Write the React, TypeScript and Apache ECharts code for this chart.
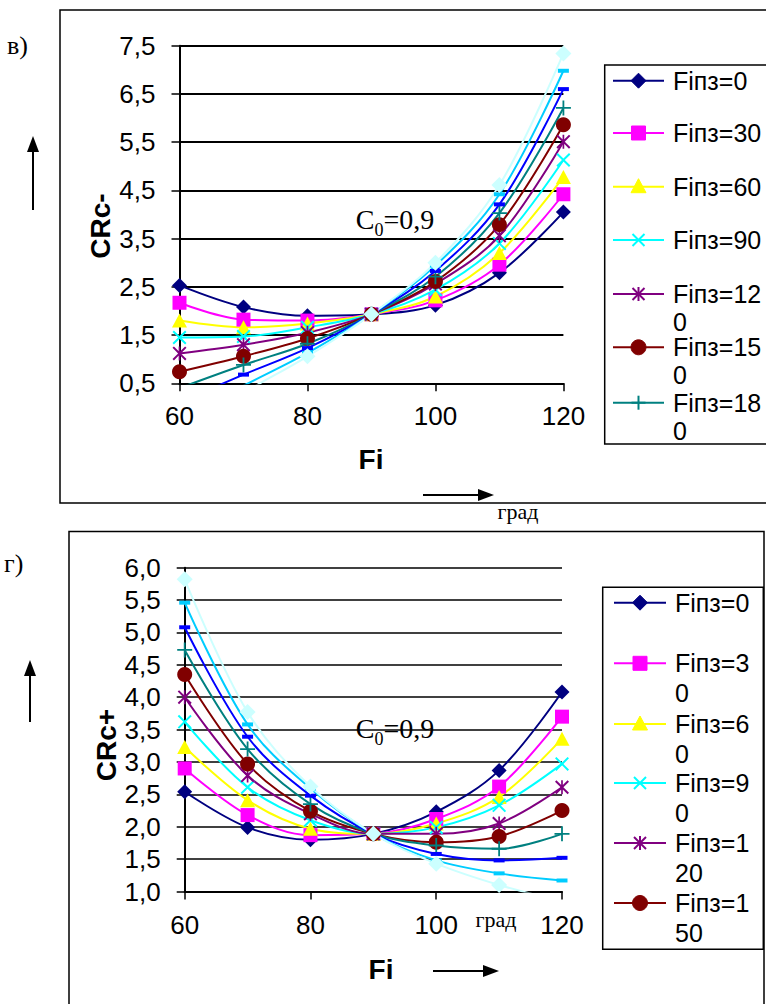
import React, { useEffect, useRef } from "react";
import * as echarts from "echarts";

// ---- data ----
const fiValues = [60, 70, 80, 90, 100, 110, 120];
const seriesNames = [
  "Fiпз=0", "Fiпз=30", "Fiпз=60", "Fiпз=90", "Fiпз=120",
  "Fiпз=150", "Fiпз=180", "Fiпз=210", "Fiпз=240", "Fiпз=270",
];
// top chart: CRc-
const crMinusF0 = [2.53, 2.08, 1.9, 1.93, 2.12, 2.79, 4.05];
const crMinusF30 = [2.17, 1.82, 1.8, 1.93, 2.22, 2.96, 4.42];
const crMinusF60 = [1.8, 1.66, 1.74, 1.93, 2.3, 3.2, 4.78];
const crMinusF90 = [1.45, 1.47, 1.66, 1.93, 2.44, 3.4, 5.13];
const crMinusF120 = [1.12, 1.3, 1.55, 1.93, 2.56, 3.56, 5.51];
const crMinusF150 = [0.74, 1.06, 1.43, 1.93, 2.61, 3.79, 5.86];
const crMinusF180 = [0.4, 0.88, 1.32, 1.93, 2.71, 4.03, 6.21];
const crMinusF210 = [0.1, 0.68, 1.23, 1.93, 2.83, 4.21, 6.6];
const crMinusF240 = [-0.25, 0.45, 1.13, 1.93, 2.94, 4.42, 6.98];
const crMinusF270 = [-0.55, 0.3, 1.06, 1.93, 3.0, 4.61, 7.34];
// bottom chart: CRc+
const crPlusF0 = [2.54, 1.99, 1.8, 1.89, 2.23, 2.87, 4.08];
const crPlusF30 = [2.9, 2.18, 1.87, 1.89, 2.12, 2.62, 3.7];
const crPlusF60 = [3.23, 2.41, 1.97, 1.89, 2.05, 2.46, 3.36];
const crPlusF90 = [3.62, 2.61, 2.1, 1.89, 1.99, 2.33, 2.97];
const crPlusF120 = [4.0, 2.79, 2.2, 1.89, 1.89, 2.05, 2.61];
const crPlusF150 = [4.35, 2.97, 2.24, 1.89, 1.76, 1.85, 2.25];
const crPlusF180 = [4.73, 3.2, 2.35, 1.89, 1.71, 1.66, 1.89];
const crPlusF210 = [5.08, 3.39, 2.48, 1.89, 1.58, 1.48, 1.52];
const crPlusF240 = [5.46, 3.58, 2.59, 1.89, 1.48, 1.28, 1.17];
const crPlusF270 = [5.82, 3.77, 2.62, 1.89, 1.43, 1.1, 0.85];

const topSeriesData = [crMinusF0, crMinusF30, crMinusF60, crMinusF90, crMinusF120, crMinusF150, crMinusF180, crMinusF210, crMinusF240, crMinusF270];
const bottomSeriesData = [crPlusF0, crPlusF30, crPlusF60, crPlusF90, crPlusF120, crPlusF150, crPlusF180, crPlusF210, crPlusF240, crPlusF270];

const topLegendCount = 7;
const bottomLegendCount = 6;
const topLegendLabels = ["Fiпз=0", "Fiпз=30", "Fiпз=60", "Fiпз=90", "Fiпз=12\n0", "Fiпз=15\n0", "Fiпз=18\n0"];
const bottomLegendLabels = ["Fiпз=0", "Fiпз=3\n0", "Fiпз=6\n0", "Fiпз=9\n0", "Fiпз=1\n20", "Fiпз=1\n50"];

// ---- styles ----
const COLORS = ["#000080", "#FF00FF", "#FFFF00", "#00FFFF", "#800080", "#800000", "#008080", "#0000FF", "#00CCFF", "#CCFFFF"];
const SYM_X = "path://M0,1 L1,0 L5,4 L9,0 L10,1 L6,5 L10,9 L9,10 L5,6 L1,10 L0,9 L4,5 Z";
const SYM_STAR = "path://M0,1 L1,0 L5,4 L9,0 L10,1 L6,5 L10,9 L9,10 L5,6 L1,10 L0,9 L4,5 Z M4.4,0 L5.6,0 L5.6,10 L4.4,10 Z";
const SYM_PLUS = "path://M4.4,0 L5.6,0 L5.6,4.4 L10,4.4 L10,5.6 L5.6,5.6 L5.6,10 L4.4,10 L4.4,5.6 L0,5.6 L0,4.4 L4.4,4.4 Z";
const SYM_DASH = "path://M0,0 L10,0 L10,4 L0,4 Z";
const SYMBOLS: any[] = ["diamond", "rect", "triangle", SYM_X, SYM_STAR, "circle", SYM_PLUS, SYM_DASH, SYM_DASH, "diamond"];
const SYM_SIZES: any[] = [15, 14, [15, 14], 14, 14, 15, 15, [11, 4], [11, 4], 16];

const SANS = '"Liberation Sans", Arial, sans-serif';
const SERIF = '"Liberation Serif", "Times New Roman", serif';

function commaFmt(v: number) {
  return v.toFixed(1).replace(".", ",");
}

function legendMarker(i: number, cx: number, cy: number, color: string): any[] {
  const s = { fill: color, stroke: color, lineWidth: 1 };
  const ls = { stroke: color, lineWidth: 2 };
  switch (i) {
    case 0:
      return [{ type: "polygon", shape: { points: [[cx, cy - 7.5], [cx + 7.5, cy], [cx, cy + 7.5], [cx - 7.5, cy]] }, style: s }];
    case 1:
      return [{ type: "rect", shape: { x: cx - 7, y: cy - 7, width: 14, height: 14 }, style: s }];
    case 2:
      return [{ type: "polygon", shape: { points: [[cx, cy - 8], [cx + 7.5, cy + 6], [cx - 7.5, cy + 6]] }, style: s }];
    case 3:
      return [
        { type: "line", shape: { x1: cx - 6, y1: cy - 6, x2: cx + 6, y2: cy + 6 }, style: ls },
        { type: "line", shape: { x1: cx - 6, y1: cy + 6, x2: cx + 6, y2: cy - 6 }, style: ls },
      ];
    case 4:
      return [
        { type: "line", shape: { x1: cx - 6, y1: cy - 6, x2: cx + 6, y2: cy + 6 }, style: ls },
        { type: "line", shape: { x1: cx - 6, y1: cy + 6, x2: cx + 6, y2: cy - 6 }, style: ls },
        { type: "line", shape: { x1: cx, y1: cy - 7, x2: cx, y2: cy + 7 }, style: ls },
      ];
    case 5:
      return [{ type: "circle", shape: { cx, cy, r: 7.5 }, style: s }];
    case 6:
      return [
        { type: "line", shape: { x1: cx - 7, y1: cy, x2: cx + 7, y2: cy }, style: ls },
        { type: "line", shape: { x1: cx, y1: cy - 7, x2: cx, y2: cy + 7 }, style: ls },
      ];
    default:
      return [];
  }
}

function legendItems(xLine0: number, xLine1: number, xText: number, ys: number[], labels: string[], lineH: number): any[] {
  const out: any[] = [];
  ys.forEach((y, i) => {
    const c = COLORS[i];
    out.push({ type: "line", shape: { x1: xLine0, y1: y, x2: xLine1, y2: y }, style: { stroke: c, lineWidth: 2 } });
    out.push(...legendMarker(i, (xLine0 + xLine1) / 2, y, c));
    out.push({
      type: "text",
      x: xText,
      y: y - lineH / 2,
      style: { text: labels[i], font: `25px ${SANS}`, fill: "#000", align: "left", verticalAlign: "top", lineHeight: lineH },
    });
  });
  return out;
}

function upArrow(x: number, yTip: number, yBottom: number): any[] {
  return [
    { type: "line", shape: { x1: x, y1: yTip + 10, x2: x, y2: yBottom }, style: { stroke: "#000", lineWidth: 2 } },
    { type: "polygon", shape: { points: [[x, yTip], [x + 6, yTip + 16], [x - 6, yTip + 16]] }, style: { fill: "#000" } },
  ];
}

function rightArrow(x0: number, xTip: number, y: number): any[] {
  return [
    { type: "line", shape: { x1: x0, y1: y, x2: xTip - 10, y2: y }, style: { stroke: "#000", lineWidth: 2 } },
    { type: "polygon", shape: { points: [[xTip, y], [xTip - 16, y - 6], [xTip - 16, y + 6]] }, style: { fill: "#000" } },
  ];
}

function c0Text(cx: number, cy: number): any {
  return {
    type: "text",
    x: cx,
    y: cy,
    style: {
      text: "{a|C}{b|0}{a|=0,9}",
      align: "center",
      verticalAlign: "middle",
      rich: {
        a: { font: `28px ${SERIF}`, fill: "#000", verticalAlign: "bottom", padding: [0, 0, 5, 0] },
        b: { font: `18px ${SERIF}`, fill: "#000", verticalAlign: "bottom" },
      },
    },
  };
}

function makeXAxis(gridIndex: number) {
  return {
    type: "value",
    gridIndex,
    min: 60,
    max: 120,
    interval: 20,
    axisLine: { show: true, onZero: false, lineStyle: { color: "#000", width: 2 } },
    axisTick: { show: true, inside: false, length: 8, lineStyle: { color: "#000", width: 1.5 } },
    axisLabel: { color: "#000", fontSize: 26, fontFamily: SANS, margin: 20 },
    splitLine: { show: false },
  };
}

function makeYAxis(gridIndex: number, min: number, max: number, interval: number, gridW: number) {
  return {
    type: "value",
    gridIndex,
    min,
    max,
    interval,
    axisLine: { show: true, onZero: false, lineStyle: { color: "#000", width: 2 } },
    axisTick: { show: true, inside: false, length: 8, lineStyle: { color: "#000", width: 1.5 } },
    axisLabel: { color: "#000", fontSize: 26, fontFamily: SANS, margin: 24, formatter: (v: number) => commaFmt(v) },
    splitLine: { show: true, lineStyle: { color: "#000", width: gridW } },
  };
}

function buildSeries(datasets: number[][], axisIndex: number) {
  return datasets.map((arr, i) => ({
    name: seriesNames[i],
    type: "line",
    xAxisIndex: axisIndex,
    yAxisIndex: axisIndex,
    data: fiValues.map((x, k) => [x, arr[k]]),
    smooth: 0.35,
    clip: true,
    symbol: SYMBOLS[i],
    symbolSize: SYM_SIZES[i],
    showSymbol: true,
    lineStyle: { color: COLORS[i], width: 2 },
    itemStyle: { color: COLORS[i], borderWidth: 0 },
    emphasis: { disabled: true },
    z: 3,
  }));
}

export default function App() {
  const ref = useRef<HTMLDivElement>(null);
  useEffect(() => {
    if (!ref.current) return;
    const chart = echarts.init(ref.current, undefined, { renderer: "svg" });

    const topLegendYs = [80.7, 133, 186.7, 240, 294, 347.3, 402.7].slice(0, topLegendCount);
    const bottomLegendYs = [602.7, 663.3, 724, 783, 843, 903].slice(0, bottomLegendCount);

    const graphics: any[] = [
      // frames
      { type: "rect", shape: { x: 60, y: 10, width: 740, height: 493 }, style: { fill: "none", stroke: "#000", lineWidth: 1.5 }, z: 0 },
      { type: "rect", shape: { x: 69, y: 531.5, width: 695, height: 520 }, style: { fill: "none", stroke: "#000", lineWidth: 1.5 }, z: 0 },
      // legend boxes
      { type: "rect", shape: { x: 604.7, y: 65, width: 200, height: 379 }, style: { fill: "#fff", stroke: "#000", lineWidth: 1.5 } },
      { type: "rect", shape: { x: 602.7, y: 587.3, width: 160.6, height: 362 }, style: { fill: "#fff", stroke: "#000", lineWidth: 1.5 } },
      ...legendItems(613, 664, 673, topLegendYs, topLegendLabels, 28),
      ...legendItems(614, 666, 675, bottomLegendYs, bottomLegendLabels, 30),
      // panel letters
      { type: "text", x: 7, y: 45, style: { text: "в)", font: `26px ${SERIF}`, fill: "#000", align: "left", verticalAlign: "middle" } },
      { type: "text", x: 4, y: 563, style: { text: "г)", font: `26px ${SERIF}`, fill: "#000", align: "left", verticalAlign: "middle" } },
      // y titles
      { type: "text", x: 100, y: 226, rotation: Math.PI / 2, style: { text: "CRc-", font: `bold 28px ${SANS}`, fill: "#000", align: "center", verticalAlign: "middle" } },
      { type: "text", x: 106, y: 745, rotation: Math.PI / 2, style: { text: "CRc+", font: `bold 28px ${SANS}`, fill: "#000", align: "center", verticalAlign: "middle" } },
      // x titles
      { type: "text", x: 371, y: 459, style: { text: "Fi", font: `bold 28px ${SANS}`, fill: "#000", align: "center", verticalAlign: "middle" } },
      { type: "text", x: 381, y: 969, style: { text: "Fi", font: `bold 28px ${SANS}`, fill: "#000", align: "center", verticalAlign: "middle" } },
      // units
      { type: "text", x: 518, y: 511, style: { text: "град", font: `22px ${SERIF}`, fill: "#000", align: "center", verticalAlign: "middle" } },
      { type: "text", x: 496, y: 919, style: { text: "град", font: `22px ${SERIF}`, fill: "#000", align: "center", verticalAlign: "middle" } },
      // annotations
      c0Text(395, 222),
      c0Text(395, 731),
      // arrows
      ...upArrow(33, 136, 210),
      ...upArrow(30, 660, 722),
      ...rightArrow(423, 494, 495),
      ...rightArrow(433, 499, 971),
    ];

    const option: any = {
      animation: false,
      backgroundColor: "#fff",
      textStyle: { fontFamily: SANS },
      grid: [
        { left: 179.5, top: 45.7, width: 383.9, height: 337.6, containLabel: false },
        { left: 184.7, top: 567.7, width: 377.3, height: 323.8, containLabel: false },
      ],
      xAxis: [makeXAxis(0), makeXAxis(1)],
      yAxis: [makeYAxis(0, 0.5, 7.5, 1, 2), makeYAxis(1, 1, 6, 0.5, 1.5)],
      tooltip: { show: false },
      series: [...buildSeries(topSeriesData, 0), ...buildSeries(bottomSeriesData, 1)],
      graphic: graphics,
    };
    chart.setOption(option);
    return () => chart.dispose();
  }, []);

  return (
    <div
      ref={ref}
      style={{ position: "absolute", left: 0, top: 0, width: 766, height: 1004, background: "#fff" }}
    />
  );
}
